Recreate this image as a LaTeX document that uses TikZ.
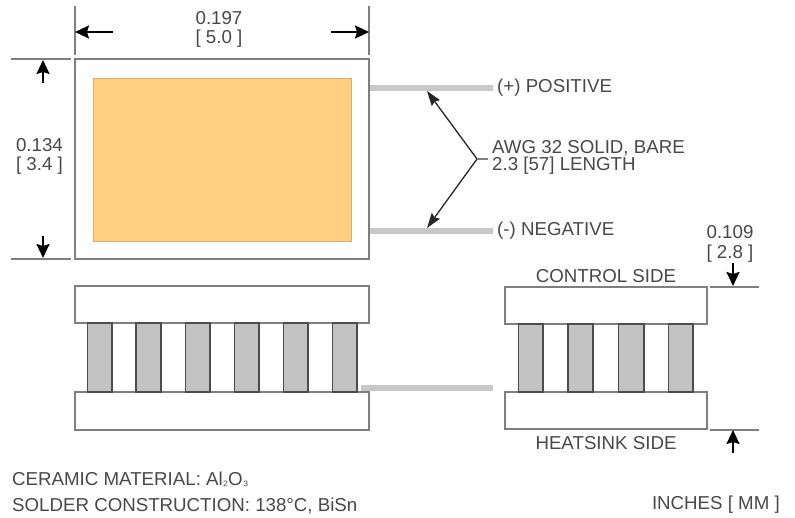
\documentclass[tikz,border=0pt]{standalone}
\usepackage{fontspec}
\setmainfont{Liberation Sans}
\usetikzlibrary{arrows.meta}
\definecolor{txt}{HTML}{484848}
\definecolor{edge}{HTML}{7F7F7F}
\definecolor{wire}{HTML}{C8C8C8}
\definecolor{pad}{HTML}{FFD07F}
\definecolor{pil}{HTML}{C2C2C2}
\tikzset{
  x=1pt,y=-1pt,
  lbl/.style={inner sep=0pt,text=txt,font=\fontsize{18.7}{18.7}\selectfont},
  plate/.style={draw=edge,line width=2pt,fill=white},
  ext/.style={draw=edge,line width=2pt},
  wirel/.style={draw=wire,line width=6pt},
  dim/.style={draw=black,line width=2pt,-{Stealth[length=14pt,width=13pt,inset=2pt]}},
  lead/.style={draw=black!85,line width=1.3pt,-{Stealth[length=15pt,width=10pt,inset=2pt]}},
  pillar/.style={draw=black!70,line width=1.4pt,fill=pil},
}
\begin{document}
\begin{tikzpicture}
\useasboundingbox (0,0) rectangle (795,517);
% extension line end points
\foreach \n/\x/\y in {e1a/75/6,e1b/75/55,e2a/369/6,e2b/369/55,e3a/11/59,e3b/71/59,e4a/11/259,e4b/71/259,
  e5a/710/286.5,e5b/759/286.5,e6a/710/429.5,e6b/759/429.5,
  a1s/113/32,a1e/75/32,a2s/331/32,a2e/369/32,a3s/43/83,a3e/43/60,a4s/43/236,a4e/43/258,
  a5s/733/263,a5e/733/286,a6s/733/453,a6e/733/430,
  w1a/370/88,w1b/493/88,w2a/370/231,w2b/493/231,w3a/361/388,w3b/493/388,
  l0/477/159,l1/427/91,l2/427/228,l3/488/159}
  {\coordinate (\n) at (\x,\y);}
% top view
\path[plate] (75,59) rectangle (369,259);
\path[fill=pad,draw=pad!85!black,line width=.6pt] (93.5,78) rectangle (351,241);
\draw[ext] (e1a) -- (e1b);
\draw[ext] (e2a) -- (e2b);
\draw[ext] (e3a) -- (e3b);
\draw[ext] (e4a) -- (e4b);
\draw[ext] (e5a) -- (e5b);
\draw[ext] (e6a) -- (e6b);
\draw[dim] (a1s) -- (a1e);
\draw[dim] (a2s) -- (a2e);
\draw[dim] (a3s) -- (a3e);
\draw[dim] (a4s) -- (a4e);
\draw[dim] (a5s) -- (a5e);
\draw[dim] (a6s) -- (a6e);
\draw[wirel] (w1a) -- (w1b);
\draw[wirel] (w2a) -- (w2b);
\draw[wirel] (w3a) -- (w3b);
\draw[lead] (l0) -- (l1);
\draw[lead] (l0) -- (l2);
\draw[draw=edge,line width=1.2pt] (l0) -- (l3);
% side view, left
\path[plate] (75,286) rectangle (369,323);
\path[plate] (75,392) rectangle (369,430);
\foreach \a/\b in {87.5/112,136/161,185.5/210,234.5/259,283.5/308,332.5/357}
  {\path[pillar] (\a,323) rectangle (\b,392);}
% side view, right
\path[plate] (505,287) rectangle (707,324);
\path[plate] (505,392) rectangle (707,429);
\foreach \a/\b in {518.5/543,568/593,618.5/644,668.5/693}
  {\path[pillar] (\a,324) rectangle (\b,392);}
% labels
\node[lbl] (t1) at (219,18) {0.197};
\node[lbl] (t2) at (219,39) {[ 5.0 ]};
\node[lbl] (t3) at (39.5,145) {0.134};
\node[lbl] (t4) at (39.5,166) {[ 3.4 ]};
\node[lbl,anchor=west] (t5) at (497,88) {(+) POSITIVE};
\node[lbl,anchor=west] (t6) at (497,231) {(-) NEGATIVE};
\node[lbl,anchor=west,align=left,font=\fontsize{18.7}{16.5}\selectfont] (t7) at (492,157.5) {AWG 32 SOLID, BARE\\2.3 [57] LENGTH};
\node[lbl] (t9) at (730,232) {0.109};
\node[lbl] (t10) at (730,254) {[ 2.8 ]};
\node[lbl] (t11) at (606,276) {CONTROL SIDE};
\node[lbl] (t12) at (606,443) {HEATSINK SIDE};
\node[lbl,anchor=west] (t13) at (12,479) {CERAMIC MATERIAL: Al{\fontsize{14}{14}\selectfont ₂}O{\fontsize{14}{14}\selectfont ₃}};
\node[lbl,anchor=west] (t14) at (12,506) {SOLDER CONSTRUCTION: 138°C, BiSn};
\node[lbl,anchor=east] (t15) at (780,505) {INCHES [ MM ]};
\end{tikzpicture}
\end{document}
